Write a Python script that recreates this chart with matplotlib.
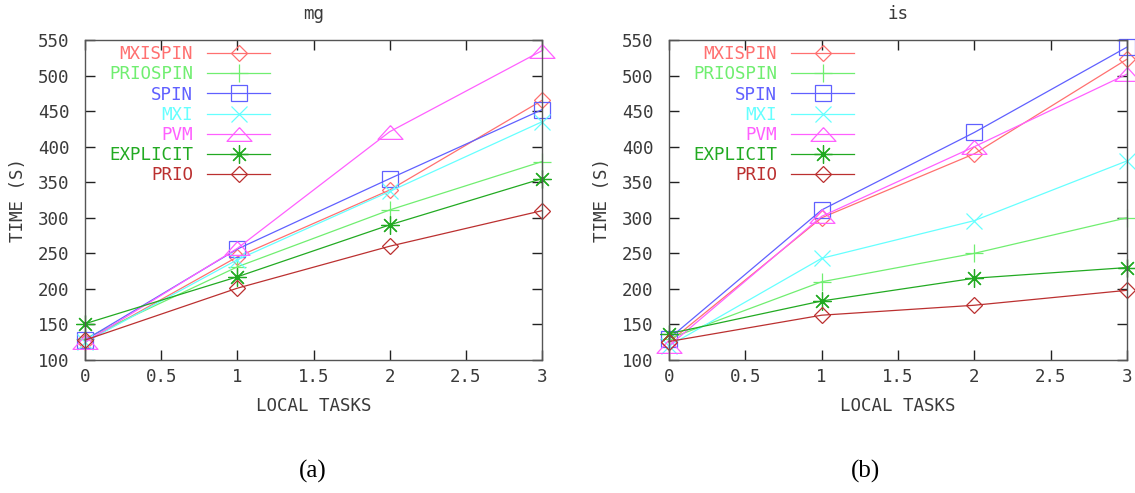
import numpy as np
import matplotlib
matplotlib.use("Agg")
import matplotlib.pyplot as plt

x = [0, 1, 2, 3]
series = ['MXISPIN', 'PRIOSPIN', 'SPIN', 'MXI', 'PVM', 'EXPLICIT', 'PRIO']

# mg benchmark
mg_mxispin = [125, 245, 339, 465]
mg_priospin = [130, 231, 311, 379]
mg_spin = [128, 256, 355, 452]
mg_mxi = [125, 241, 337, 435]
mg_pvm = [125, 257, 421, 535]
mg_explicit = [151, 217, 290, 355]
mg_prio = [128, 201, 260, 310]

# is benchmark
is_mxispin = [125, 300, 390, 523]
is_priospin = [130, 210, 250, 300]
is_spin = [130, 311, 420, 540]
is_mxi = [120, 243, 296, 380]
is_pvm = [120, 302, 400, 502]
is_explicit = [137, 183, 215, 230]
is_prio = [126, 163, 177, 198]

yticks = [100, 150, 200, 250, 300, 350, 400, 450, 500, 550]
xticks = [0, 0.5, 1, 1.5, 2, 2.5, 3]
xticklabels = ['0', '0.5', '1', '1.5', '2', '2.5', '3']

colors = ['#ff7070', '#70ee70', '#6060ff', '#66ffff', '#ff60ff', '#22aa22', '#bb3030']
tri = [(0, 0.55), (-1, -0.55), (1, -0.55), (0, 0.55)]
markers = ['D', '+', 's', 'x', tri, (8, 2, 0), 'D']
msizes = [8, 13, 12, 11, 18, 13, 8]

mono = 'DejaVu Sans Mono'
txtcol = '#3a3a3a'
fs = 12.6

fig = plt.figure(figsize=(11.35, 4.93), dpi=100)
ax1 = fig.add_axes([85 / 1135, 1 - 360 / 493, 457 / 1135, 320 / 493])
ax2 = fig.add_axes([669 / 1135, 1 - 360 / 493, 458 / 1135, 320 / 493])


def draw(ax, data, title):
    for i, name in enumerate(series):
        ax.plot(x, data[i], color=colors[i], lw=0.9, marker=markers[i], ms=msizes[i],
                mfc='none', mec=colors[i], mew=0.9, label=name, clip_on=False)
    ax.set_xlim(0, 3)
    ax.set_ylim(100, 550)
    ax.set_xticks(xticks)
    ax.set_xticklabels(xticklabels)
    ax.set_yticks(yticks)
    ax.tick_params(direction='in', length=7, top=True, right=True, colors='#222222',
                   labelcolor=txtcol, labelsize=fs, pad=6, width=1)
    ax.tick_params(axis='y', pad=11)
    for lab in ax.get_xticklabels() + ax.get_yticklabels():
        lab.set_family(mono)
    for s in ax.spines.values():
        s.set_color('#555555')
        s.set_linewidth(1)
    ax.set_title(title, family=mono, fontsize=fs, color=txtcol, pad=15)
    ax.set_xlabel('LOCAL TASKS', family=mono, fontsize=fs, color=txtcol, labelpad=8)
    ax.set_ylabel('TIME (S)', family=mono, fontsize=fs, color=txtcol, labelpad=8)
    leg = ax.legend(loc='upper left', markerfirst=False, frameon=False, handlelength=3.6,
                    prop={'family': mono, 'size': fs}, labelspacing=0.12,
                    handletextpad=0.8, borderaxespad=0.4, bbox_to_anchor=(0.022, 1.027))
    for t, c in zip(leg.get_texts(), colors):
        t.set_color(c)


draw(ax1, [mg_mxispin, mg_priospin, mg_spin, mg_mxi, mg_pvm, mg_explicit, mg_prio], 'mg')
draw(ax2, [is_mxispin, is_priospin, is_spin, is_mxi, is_pvm, is_explicit, is_prio], 'is')

fig.text(313 / 1135, 1 - 471 / 493, '(a)', family='Liberation Serif', fontsize=18,
         ha='center', va='center')
fig.text(866 / 1135, 1 - 471 / 493, '(b)', family='Liberation Serif', fontsize=18,
         ha='center', va='center')

fig.savefig('out.png', dpi=100)
